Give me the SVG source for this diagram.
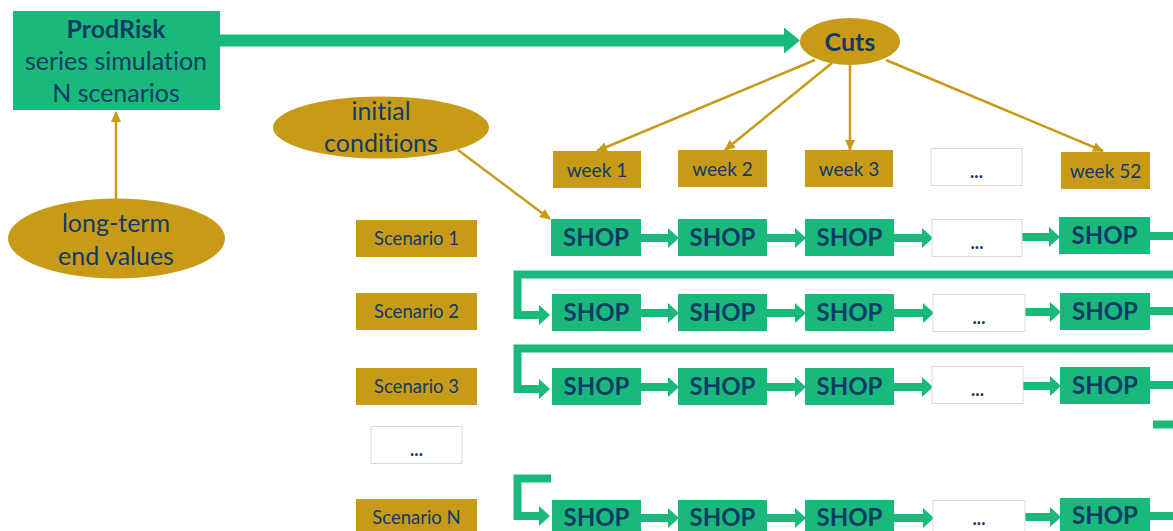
<svg xmlns="http://www.w3.org/2000/svg" width="1173" height="531" viewBox="0 0 1173 531">
<defs>
<style>
.g{fill:#18B97B}
.au{fill:#C79B17}
.wb{fill:#FFFFFF;stroke:#DADADA;stroke-width:1}
.t{font-family:Lato,"Open Sans","Liberation Sans",sans-serif;fill:#0E3B66;text-anchor:middle;font-variant-ligatures:none}
.big{font-size:25px}
.b{font-weight:bold}
.shop{font-size:24px;font-weight:bold}
.wk{font-size:19px}
.sc{font-size:18.5px}
.dots{font-size:18px;font-weight:bold}
.gl{stroke:#18B97B;fill:none;stroke-width:8}
.yl{stroke:#C79B17;fill:none;stroke-width:2.5}
</style>
<marker id="ga" viewBox="0 0 11 20" refX="5" refY="10" markerWidth="11" markerHeight="20" markerUnits="userSpaceOnUse" orient="auto">
<polygon points="0,0 11,10 0,20" fill="#18B97B"/>
</marker>
<marker id="gbig" viewBox="0 0 16 26" refX="8" refY="13" markerWidth="16" markerHeight="26" markerUnits="userSpaceOnUse" orient="auto">
<polygon points="0,0 16,13 0,26" fill="#18B97B"/>
</marker>
<marker id="ya" viewBox="0 0 11 10" refX="10" refY="5" markerWidth="11" markerHeight="10" markerUnits="userSpaceOnUse" orient="auto">
<polygon points="0,0 11,5 0,10" fill="#C79B17"/>
</marker>
</defs>
<rect width="1173" height="531" fill="#FFFFFF"/>

<g id="connectors">
<path d="M220,40.5 H792" style="stroke:#18B97B;stroke-width:12;fill:none" marker-end="url(#gbig)"/>
<line class="yl" x1="116" y1="199" x2="116" y2="112" marker-end="url(#ya)"/>
<line class="yl" x1="458" y1="150" x2="550" y2="219" marker-end="url(#ya)"/>
<line class="yl" x1="815" y1="60" x2="597" y2="151" marker-end="url(#ya)"/>
<line class="yl" x1="832" y1="63" x2="725" y2="150" marker-end="url(#ya)"/>
<line class="yl" x1="850" y1="65" x2="850" y2="150" marker-end="url(#ya)"/>
<line class="yl" x1="886" y1="60" x2="1103" y2="151" marker-end="url(#ya)"/>
<!-- row 1 -->
<path class="gl" d="M641,238 H673" marker-end="url(#ga)"/>
<path class="gl" d="M767,238 H800" marker-end="url(#ga)"/>
<path class="gl" d="M894,238 H927" marker-end="url(#ga)"/>
<path class="gl" d="M1022,237 H1054" marker-end="url(#ga)"/>
<path class="gl" d="M1150,236 H1173"/>
<!-- row 1 to row 2 -->
<path class="gl" d="M1173,274.5 H517.5 V315 H544" marker-end="url(#ga)"/>
<!-- row 2 -->
<path class="gl" d="M641,313 H673" marker-end="url(#ga)"/>
<path class="gl" d="M767,313 H800" marker-end="url(#ga)"/>
<path class="gl" d="M894,313 H928" marker-end="url(#ga)"/>
<path class="gl" d="M1025,312 H1055" marker-end="url(#ga)"/>
<path class="gl" d="M1150,311 H1173"/>
<!-- row 2 to row 3 -->
<path class="gl" d="M1173,348.5 H517.5 V389 H544" marker-end="url(#ga)"/>
<!-- row 3 -->
<path class="gl" d="M641,387 H673" marker-end="url(#ga)"/>
<path class="gl" d="M767,387 H800" marker-end="url(#ga)"/>
<path class="gl" d="M894,387 H927" marker-end="url(#ga)"/>
<path class="gl" d="M1023,386 H1055" marker-end="url(#ga)"/>
<path class="gl" d="M1150,385 H1173"/>
<path class="gl" d="M1153,424.5 H1173"/>
<!-- to row N -->
<path class="gl" d="M551,478.5 H517.5 V516 H544" marker-end="url(#ga)"/>
<!-- row N -->
<path class="gl" d="M641,518 H673" marker-end="url(#ga)"/>
<path class="gl" d="M767,518 H800" marker-end="url(#ga)"/>
<path class="gl" d="M894,518 H928" marker-end="url(#ga)"/>
<path class="gl" d="M1025,517 H1055" marker-end="url(#ga)"/>
<path class="gl" d="M1150,516 H1173"/>
</g>

<g id="prodrisk">
<rect class="g" x="13" y="11" width="207" height="99"/>
<text class="t big b" x="116" y="38">ProdRisk</text>
<text class="t big" x="116" y="70">series simulation</text>
<text class="t big" x="116" y="102">N scenarios</text>
</g>
<g id="cuts">
<ellipse class="au" cx="850" cy="41.5" rx="50" ry="23.5"/>
<text class="t big b" x="850" y="51">Cuts</text>
</g>
<g id="initial-conditions">
<ellipse class="au" cx="381" cy="127.5" rx="108" ry="31"/>
<text class="t big" x="381" y="120">initial</text>
<text class="t big" x="381" y="152">conditions</text>
</g>
<g id="long-term-end-values">
<ellipse class="au" cx="116.5" cy="238.5" rx="108.5" ry="40"/>
<text class="t big" x="116" y="232">long-term</text>
<text class="t big" x="116" y="265">end values</text>
</g>

<g id="week-1"><rect class="au" x="553" y="151" width="88" height="37"/><text class="t wk" x="597" y="177">week 1</text></g>
<g id="week-2"><rect class="au" x="678" y="150" width="89" height="37"/><text class="t wk" x="722.5" y="176">week 2</text></g>
<g id="week-3"><rect class="au" x="805" y="150" width="88" height="37"/><text class="t wk" x="849" y="176">week 3</text></g>
<g id="week-dots"><rect class="wb" x="931" y="148.5" width="91" height="37"/><text class="t dots" x="976.5" y="178">...</text></g>
<g id="week-52"><rect class="au" x="1061" y="152" width="89" height="37"/><text class="t wk" x="1105.5" y="178">week 52</text></g>

<g id="scenario-1"><rect class="au" x="356" y="220" width="121" height="37"/><text class="t sc" x="416.5" y="245">Scenario 1</text></g>
<g id="scenario-2"><rect class="au" x="356" y="293" width="121" height="37"/><text class="t sc" x="416.5" y="318">Scenario 2</text></g>
<g id="scenario-3"><rect class="au" x="356" y="368" width="121" height="37"/><text class="t sc" x="416.5" y="393">Scenario 3</text></g>
<g id="scenario-dots"><rect class="wb" x="371" y="426.5" width="91" height="37"/><text class="t dots" x="416.5" y="456">...</text></g>
<g id="scenario-n"><rect class="au" x="356" y="499" width="121" height="37"/><text class="t sc" x="416.5" y="524">Scenario N</text></g>

<g id="row1-shop1"><rect class="g" x="551" y="219" width="90" height="37"/><text class="t shop" x="596" y="246">SHOP</text></g>
<g id="row1-shop2"><rect class="g" x="678" y="219" width="89" height="37"/><text class="t shop" x="722.5" y="246">SHOP</text></g>
<g id="row1-shop3"><rect class="g" x="805" y="219" width="89" height="37"/><text class="t shop" x="849.5" y="246">SHOP</text></g>
<g id="row1-dots"><rect class="wb" x="932" y="219.5" width="90" height="37"/><text class="t dots" x="977" y="249">...</text></g>
<g id="row1-shop52"><rect class="g" x="1059" y="217" width="91" height="37"/><text class="t shop" x="1104.5" y="244">SHOP</text></g>

<g id="row2-shop1"><rect class="g" x="552" y="294" width="89" height="37"/><text class="t shop" x="596.5" y="321">SHOP</text></g>
<g id="row2-shop2"><rect class="g" x="678" y="294" width="89" height="37"/><text class="t shop" x="722.5" y="321">SHOP</text></g>
<g id="row2-shop3"><rect class="g" x="805" y="294" width="89" height="37"/><text class="t shop" x="849.5" y="321">SHOP</text></g>
<g id="row2-dots"><rect class="wb" x="933" y="294.5" width="92" height="37"/><text class="t dots" x="979" y="324">...</text></g>
<g id="row2-shop52"><rect class="g" x="1060" y="293" width="90" height="37"/><text class="t shop" x="1105" y="320">SHOP</text></g>

<g id="row3-shop1"><rect class="g" x="552" y="368" width="89" height="37"/><text class="t shop" x="596.5" y="395">SHOP</text></g>
<g id="row3-shop2"><rect class="g" x="678" y="368" width="89" height="37"/><text class="t shop" x="722.5" y="395">SHOP</text></g>
<g id="row3-shop3"><rect class="g" x="805" y="368" width="89" height="37"/><text class="t shop" x="849.5" y="395">SHOP</text></g>
<g id="row3-dots"><rect class="wb" x="932" y="366.5" width="91" height="37"/><text class="t dots" x="977.5" y="396">...</text></g>
<g id="row3-shop52"><rect class="g" x="1060" y="367" width="90" height="37"/><text class="t shop" x="1105" y="394">SHOP</text></g>

<g id="rowN-shop1"><rect class="g" x="552" y="500" width="89" height="37"/><text class="t shop" x="596.5" y="526">SHOP</text></g>
<g id="rowN-shop2"><rect class="g" x="678" y="500" width="89" height="37"/><text class="t shop" x="722.5" y="526">SHOP</text></g>
<g id="rowN-shop3"><rect class="g" x="805" y="500" width="89" height="37"/><text class="t shop" x="849.5" y="526">SHOP</text></g>
<g id="rowN-dots"><rect class="wb" x="933" y="500.5" width="92" height="37"/><text class="t dots" x="979" y="525">...</text></g>
<g id="rowN-shop52"><rect class="g" x="1060" y="498" width="90" height="37"/><text class="t shop" x="1105" y="524">SHOP</text></g>
</svg>
